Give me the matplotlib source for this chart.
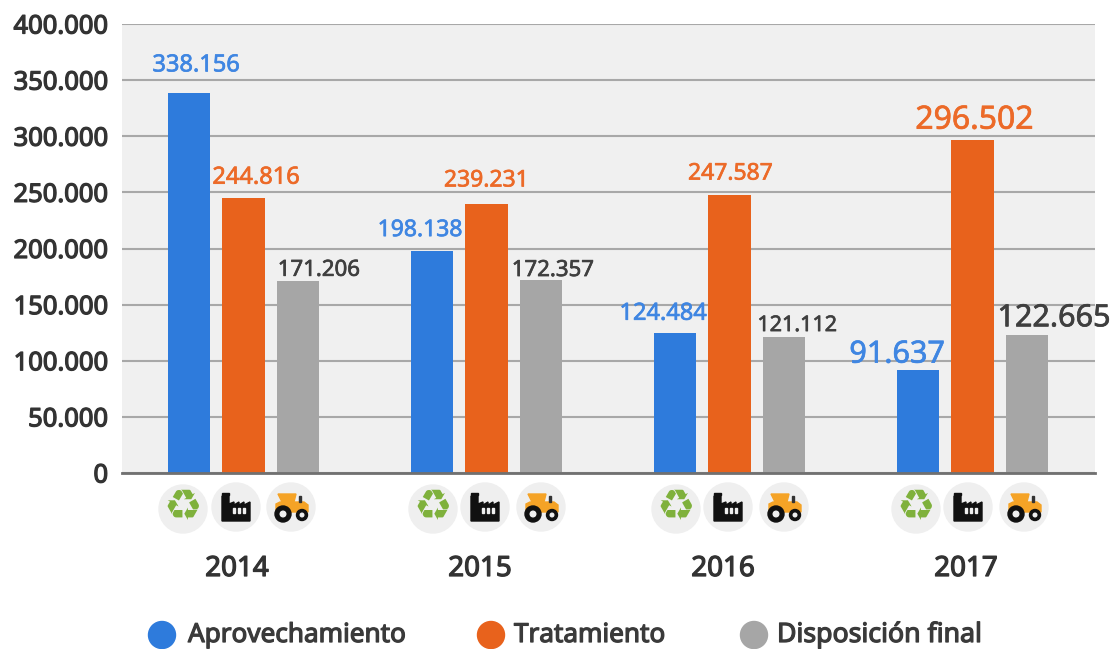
import matplotlib
matplotlib.use("Agg")
import matplotlib.pyplot as plt
from matplotlib.patches import Circle, Polygon, Rectangle
import matplotlib.patheffects as pe
import numpy as np

plt.rcParams['font.family'] = ['Noto Sans', 'DejaVu Sans']

years = ['2014', '2015', '2016', '2017']
series = ['Aprovechamiento', 'Tratamiento', 'Disposición final']
aprovechamiento = [338156, 198138, 124484, 91637]
tratamiento = [244816, 239231, 247587, 296502]
disposicion = [171206, 172357, 121112, 122665]
yticks = [0, 50000, 100000, 150000, 200000, 250000, 300000, 350000, 400000]
colors = ['#2e7bdc', '#e8621c', '#a6a6a6']
label_colors = ['#3f86e2', '#ec6a28', '#3f3f3f']

# label placement, pixels from the top of each bar (series, then year)
label_dx = [[7, -12, -12, -21], [12.5, 0, 1, 2], [21, 12, 13, 27]]
label_dy = [[28, 20.5, 19.5, 15.5], [20.5, 24, 21.5, 20], [10.5, 9, 11.5, 17]]
label_fs = [[17, 16.5, 17, 22], [17, 16.5, 16.5, 23], [16, 16, 15.5, 22]]

# icon centres in pixels, per year
recycle_x = [183, 433, 676, 916]
factory_x = [236, 485, 728, 968]
tractor_x = [291, 541, 784, 1024]
year_x = [237, 480, 723, 966]


def fmt(v):
    return f"{v:,}".replace(',', '.')


def heavy(color, w=0.7):
    # the installed Noto Sans only has a regular cut, so thicken it a little
    return [pe.withStroke(linewidth=w, foreground=color)]


W, H = 1114, 649
fig = plt.figure(figsize=(W / 100, H / 100), dpi=100)
ax = fig.add_axes([122 / W, 1 - 473 / H, (1095 - 122) / W, 449 / H])
ax.set_facecolor('#f0f0f0')

x = np.arange(len(years))
offset = 0.224
width = 0.175
for i, vals in enumerate([aprovechamiento, tratamiento, disposicion]):
    pos = x + (i - 1) * offset
    ax.bar(pos, vals, width, color=colors[i], zorder=3)
    for j, v in enumerate(vals):
        ax.annotate(fmt(v), (pos[j], v), xytext=(label_dx[i][j], label_dy[i][j]),
                    textcoords='offset pixels', ha='center', va='center',
                    color=label_colors[i], fontsize=label_fs[i][j],
                    path_effects=heavy(label_colors[i], 0.5),
                    zorder=5, annotation_clip=False)

ax.set_xlim(-0.5, 3.504)
ax.set_ylim(0, 400000)
ax.set_yticks(yticks)
ax.set_yticklabels([fmt(v) for v in yticks], fontsize=18.4, color='#333333')
for t in ax.get_yticklabels():
    t.set_path_effects(heavy('#333333', 0.9))
ax.set_xticks([])
ax.tick_params(axis='y', length=0, pad=10)
ax.grid(axis='y', color='#a8a8a8', linewidth=1.5, zorder=1)
for s in ['top', 'right', 'left']:
    ax.spines[s].set_visible(False)
ax.spines['bottom'].set_color('#707070')
ax.spines['bottom'].set_linewidth(2)
ax.spines['bottom'].set_zorder(6)

# overlay in pixel coordinates for the icons, year labels and legend
ov = fig.add_axes([0, 0, 1, 1])
ov.set_xlim(0, W)
ov.set_ylim(H, 0)
ov.axis('off')


def recycle(cx, cy):
    ov.add_patch(Circle((cx, cy + 2), 24, color='#efefef'))
    ov.text(cx, cy + 1, '♻', fontsize=31, color='#7fb13c', ha='center', va='center',
            family='DejaVu Sans')


def factory(cx, cy):
    pts = [(-14, 14), (-14, -11), (-7, -11), (-7, -3), (-2, -5), (-2, -2), (3, -5), (3, -2), (8, -5),
           (8, -2), (14, -5), (14, 14)]
    ov.add_patch(Circle((cx, cy), 24, color='#efefef'))
    ov.add_patch(Polygon([(cx + a, cy + b) for a, b in pts], color='#111111'))
    ov.add_patch(Rectangle((cx - 14, cy - 14), 7, 2, color='#111111'))
    for d in [-3, 2, 7]:
        ov.add_patch(Rectangle((cx + d, cy + 1), 2.2, 5, color='#efefef'))


def tractor(cx, cy):
    ov.add_patch(Circle((cx, cy), 24, color='#efefef'))
    ov.add_patch(Polygon([(cx - 13, cy - 13), (cx + 5, cy - 13), (cx + 3, cy - 5), (cx - 9, cy - 5)],
                         color='#f5a326'))
    ov.add_patch(Polygon([(cx - 15, cy - 3), (cx - 11, cy - 5), (cx + 13, cy - 5), (cx + 17, cy - 2),
                          (cx + 17, cy + 5), (cx - 15, cy + 5)], color='#f5a326'))
    ov.add_patch(Rectangle((cx + 8, cy - 11), 1.5, 6, color='#333333'))
    ov.add_patch(Circle((cx - 8, cy + 7), 8, color='#111111'))
    ov.add_patch(Circle((cx - 8, cy + 7), 2.8, color='#efefef'))
    ov.add_patch(Circle((cx + 11, cy + 8), 5.5, color='#111111'))
    ov.add_patch(Circle((cx + 11, cy + 8), 1.8, color='#efefef'))


for j, yr in enumerate(years):
    recycle(recycle_x[j], 507)
    factory(factory_x[j], 507)
    tractor(tractor_x[j], 507)
    ov.text(year_x[j], 569, yr, fontsize=20, color='#333333', ha='center', va='center',
            path_effects=heavy('#333333', 0.9))

leg_x = [162, 491, 754]
leg_text_x = [188, 514, 777]
leg_fs = [18.8, 18.8, 19.2]
for lx, tx, fs, c, s in zip(leg_x, leg_text_x, leg_fs, colors, series):
    ov.add_patch(Circle((lx, 635), 13.5, color=c))
    ov.text(tx, 642, s, fontsize=fs, color='#3a3a3a', ha='left', va='baseline',
            path_effects=heavy('#3a3a3a', 0.9))

fig.savefig('out.png', dpi=100)
